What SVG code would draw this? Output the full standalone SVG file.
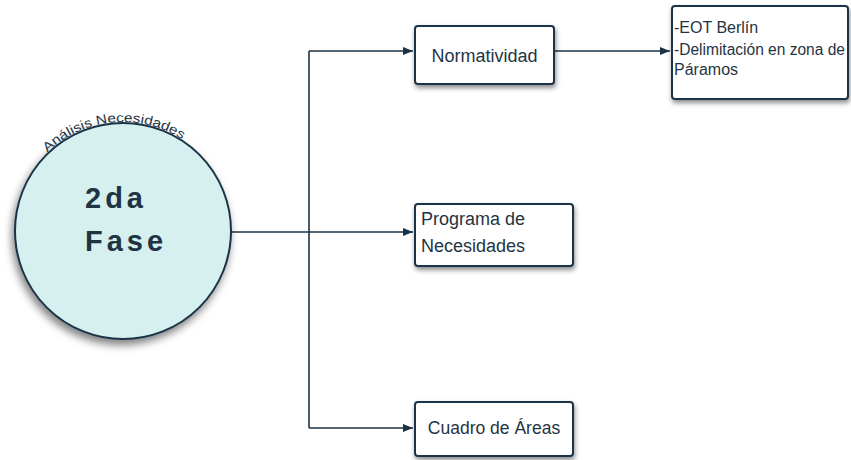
<svg xmlns="http://www.w3.org/2000/svg" width="851" height="460" viewBox="0 0 851 460">
<defs>
<filter id="sh" x="-20%" y="-20%" width="140%" height="150%">
<feDropShadow dx="1" dy="3" stdDeviation="2.5" flood-color="#000" flood-opacity="0.45"/>
</filter>
<filter id="shc" x="-20%" y="-20%" width="140%" height="150%">
<feDropShadow dx="-2" dy="5" stdDeviation="4" flood-color="#000" flood-opacity="0.5"/>
</filter>
<marker id="ah" markerWidth="10" markerHeight="8" refX="10" refY="4" orient="auto" markerUnits="userSpaceOnUse">
<path d="M0,0 L10,4 L0,8 Z" fill="#1b3346"/>
</marker>
<path id="arc" d="M 14,231 A 109,109 0 0 1 232,231"/>
</defs>
<style>
.box{fill:#fff;stroke:#1b3346;stroke-width:2;filter:url(#sh)}
.t{font-family:"Liberation Sans",Arial,sans-serif;fill:#1f3443}
.c{fill:none;stroke:#1b3346;stroke-width:1.6}
</style>
<rect width="851" height="460" fill="#fff"/>
<g id="connectors">
<line class="c" x1="231" y1="232" x2="413" y2="232" marker-end="url(#ah)"/>
<path class="c" d="M309,51 V428"/>
<line class="c" x1="309" y1="51" x2="413" y2="51" marker-end="url(#ah)"/>
<line class="c" x1="309" y1="428" x2="413" y2="428" marker-end="url(#ah)"/>
<line class="c" x1="555" y1="51" x2="670" y2="51" marker-end="url(#ah)"/>
</g>
<g id="fase">
<circle cx="123" cy="231" r="108" fill="#d5f0ee" stroke="#1b3346" stroke-width="2" filter="url(#shc)"/>
<text class="t" font-size="13"><textPath href="#arc" startOffset="46.9%" text-anchor="middle" textLength="146" lengthAdjust="spacingAndGlyphs">Análisis Necesidades</textPath></text>
<text class="t" x="85" y="208" font-size="29" font-weight="bold" letter-spacing="4" fill="#163042">2da</text>
<text class="t" x="85" y="251" font-size="29" font-weight="bold" letter-spacing="4" fill="#163042">Fase</text>
</g>
<g id="normatividad">
<rect class="box" x="415" y="26" width="139" height="58" rx="3"/>
<text class="t" x="484.5" y="62" font-size="18" text-anchor="middle">Normatividad</text>
</g>
<g id="eot">
<rect class="box" x="672" y="6" width="176" height="93" rx="3"/>
<text class="t" x="674" y="33" font-size="16">-EOT Berlín</text>
<text class="t" x="674" y="54.5" font-size="16" textLength="171" lengthAdjust="spacingAndGlyphs">-Delimitación en zona de</text>
<text class="t" x="674" y="75" font-size="16">Páramos</text>
</g>
<g id="programa">
<rect class="box" x="415" y="204" width="158" height="62" rx="3"/>
<text class="t" x="421" y="225" font-size="18">Programa de</text>
<text class="t" x="421" y="252" font-size="18">Necesidades</text>
</g>
<g id="cuadro">
<rect class="box" x="415" y="402" width="158" height="54" rx="3"/>
<text class="t" x="494" y="434" font-size="17.5" text-anchor="middle">Cuadro de Áreas</text>
</g>
</svg>
